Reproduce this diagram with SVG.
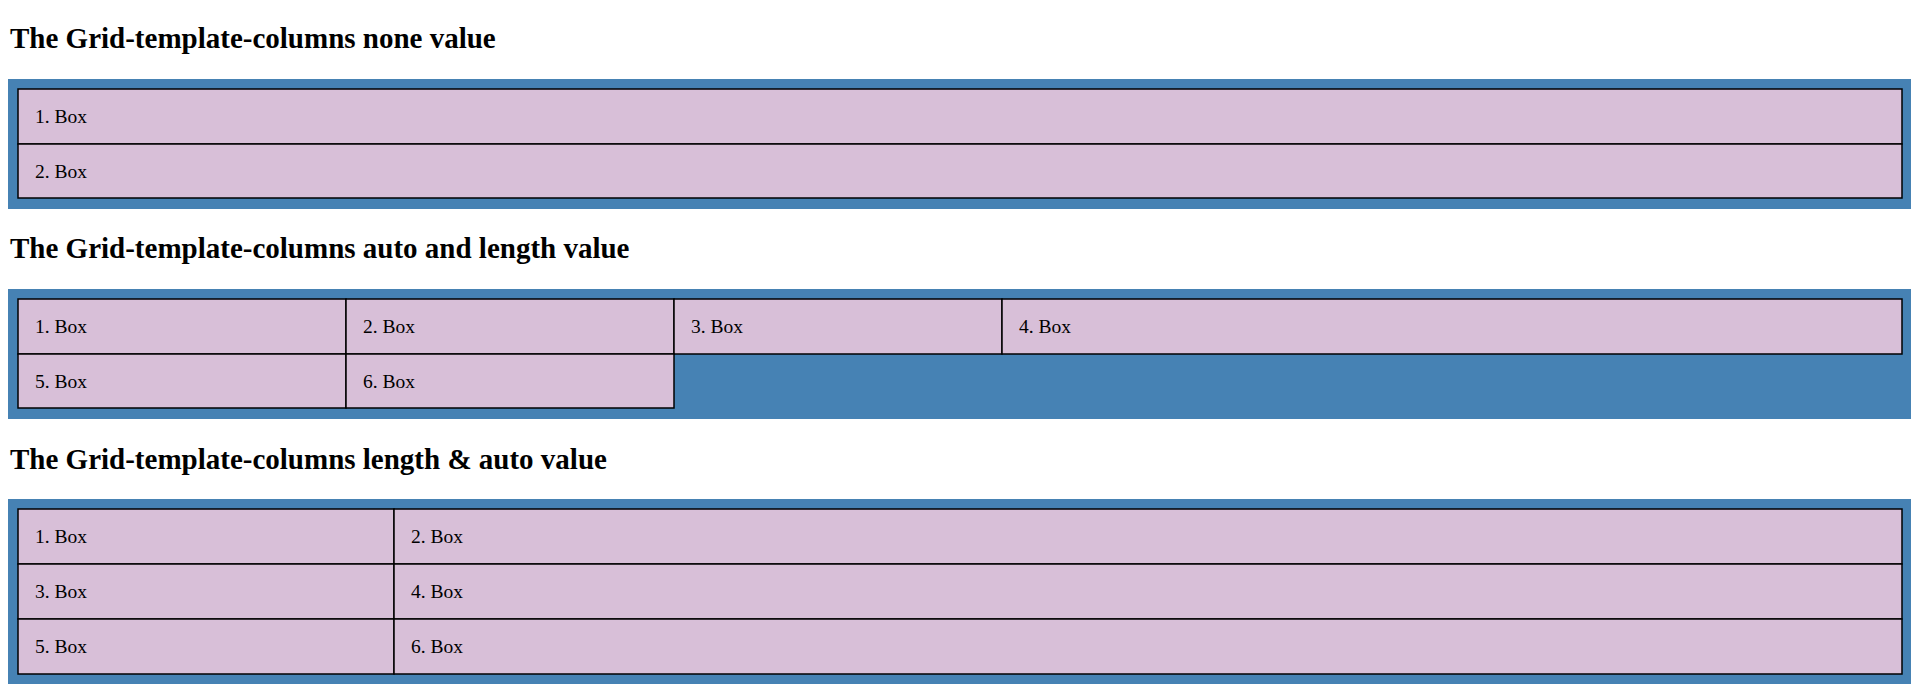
<svg xmlns="http://www.w3.org/2000/svg" width="1920" height="688" viewBox="0 0 1920 688">
<style>
.h{font-family:"Liberation Serif",serif;font-weight:bold;font-size:29px;fill:#000}
.t{font-family:"Liberation Serif",serif;font-size:19.5px;fill:#000}
.c{fill:#4682b4}
.b{fill:#d8bfd8;stroke:#000;stroke-width:1.5}
</style>
<rect width="1920" height="688" fill="#fff"/>
<text class="h" x="10" y="48">The Grid-template-columns none value</text>
<g id="grid1">
<rect class="c" x="8" y="79" width="1903" height="130"/>
<g id="g1b1"><rect class="b" x="18" y="89" width="1884" height="55"/><text class="t" x="35" y="123">1. Box</text></g>
<g id="g1b2"><rect class="b" x="18" y="144" width="1884" height="54"/><text class="t" x="35" y="178">2. Box</text></g>
</g>
<text class="h" x="10" y="258">The Grid-template-columns auto and length value</text>
<g id="grid2">
<rect class="c" x="8" y="289" width="1903" height="130"/>
<g id="g2b1"><rect class="b" x="18" y="299" width="328" height="55"/><text class="t" x="35" y="333">1. Box</text></g>
<g id="g2b2"><rect class="b" x="346" y="299" width="328" height="55"/><text class="t" x="363" y="333">2. Box</text></g>
<g id="g2b3"><rect class="b" x="674" y="299" width="328" height="55"/><text class="t" x="691" y="333">3. Box</text></g>
<g id="g2b4"><rect class="b" x="1002" y="299" width="900" height="55"/><text class="t" x="1019" y="333">4. Box</text></g>
<g id="g2b5"><rect class="b" x="18" y="354" width="328" height="54"/><text class="t" x="35" y="388">5. Box</text></g>
<g id="g2b6"><rect class="b" x="346" y="354" width="328" height="54"/><text class="t" x="363" y="388">6. Box</text></g>
</g>
<text class="h" x="10" y="469">The Grid-template-columns length &amp; auto value</text>
<g id="grid3">
<rect class="c" x="8" y="499" width="1903" height="185"/>
<g id="g3b1"><rect class="b" x="18" y="509" width="376" height="55"/><text class="t" x="35" y="543">1. Box</text></g>
<g id="g3b2"><rect class="b" x="394" y="509" width="1508" height="55"/><text class="t" x="411" y="543">2. Box</text></g>
<g id="g3b3"><rect class="b" x="18" y="564" width="376" height="55"/><text class="t" x="35" y="598">3. Box</text></g>
<g id="g3b4"><rect class="b" x="394" y="564" width="1508" height="55"/><text class="t" x="411" y="598">4. Box</text></g>
<g id="g3b5"><rect class="b" x="18" y="619" width="376" height="55"/><text class="t" x="35" y="653">5. Box</text></g>
<g id="g3b6"><rect class="b" x="394" y="619" width="1508" height="55"/><text class="t" x="411" y="653">6. Box</text></g>
</g>
<g id="connectors"/>
</svg>
